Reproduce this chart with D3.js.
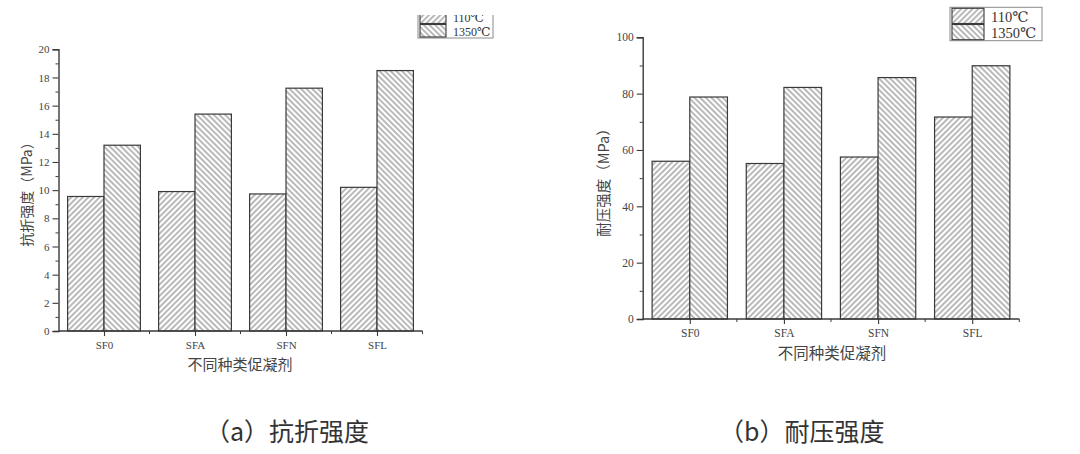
<!DOCTYPE html>
<html><head><meta charset="utf-8">
<script src="https://cdn.jsdelivr.net/npm/d3@7"></script>
<style>
html,body{margin:0;padding:0;background:#fff;}
svg{display:block;}
</style></head>
<body>
<svg id="chart" width="1080" height="454"></svg>
<script>
// ---- data ----
const categories = ["SF0", "SFA", "SFN", "SFL"];
const seriesNames = ["110\u2103", "1350\u2103"];
const flexural110 = [9.55, 9.9, 9.73, 10.2];
const flexural1350 = [13.19, 15.4, 17.24, 18.49];
const compressive110 = [56.0, 55.2, 57.5, 71.7];
const compressive1350 = [78.8, 82.2, 85.7, 89.9];
const flexTicks = [0, 2, 4, 6, 8, 10, 12, 14, 16, 18, 20];
const compTicks = [0, 20, 40, 60, 80, 100];
const captions = ["\uFF08a\uFF09\u6297\u6298\u5f3a\u5ea6", "\uFF08b\uFF09\u8010\u538b\u5f3a\u5ea6"];
const yTitles = ["\u6297\u6298\u5f3a\u5ea6\uFF08MPa\uFF09", "\u8010\u538b\u5f3a\u5ea6\uFF08MPa\uFF09"];
const xTitle = "\u4e0d\u540c\u79cd\u7c7b\u4fc3\u51dd\u5242";

const svg = d3.select("#chart");
const serif = "'Liberation Serif','DejaVu Serif','Noto Sans CJK SC',serif";
const cjk = "'Noto Sans CJK SC','DejaVu Sans',sans-serif";
const ink = "#3a3a3a";

// hatch patterns: rotate(45) -> "/", rotate(-45) -> "\"
const defs = svg.append("defs");
function hatch(id, angle) {
  const p = defs.append("pattern").attr("id", id).attr("patternUnits", "userSpaceOnUse")
    .attr("width", 4).attr("height", 4).attr("patternTransform", `rotate(${angle})`);
  p.append("rect").attr("width", 4).attr("height", 4).attr("fill", "#fff");
  p.append("line").attr("x1", 2).attr("y1", -1).attr("x2", 2).attr("y2", 5)
    .attr("stroke", "#505050").attr("stroke-width", 0.8);
}
hatch("h110", 45);
hatch("h1350", -45);
const fills = ["url(#h110)", "url(#h1350)"];

function drawChart(cfg) {
  const g = svg.append("g");
  const x = d3.scaleBand().domain(categories).range([cfg.x0, cfg.x1]).padding(0);
  const xs = d3.scaleBand().domain([0, 1]).range([0.1 * x.bandwidth(), 0.9 * x.bandwidth()]).padding(0);
  const y = d3.scaleLinear().domain([0, cfg.max]).range([cfg.y0, cfg.y1]);

  // bars
  const series = [cfg.s110, cfg.s1350];
  series.forEach((vals, si) => {
    g.selectAll(null).data(vals).enter().append("rect")
      .attr("x", (d, i) => x(categories[i]) + xs(si))
      .attr("y", d => y(d))
      .attr("width", xs.bandwidth())
      .attr("height", d => y(0) - y(d))
      .attr("fill", fills[si])
      .attr("stroke", ink).attr("stroke-width", 1.2);
  });

  // y axis
  const yAxis = d3.axisLeft(y).tickValues(cfg.ticks).tickSize(6).tickPadding(3).tickFormat(d3.format("d"));
  const ya = g.append("g").attr("transform", `translate(${cfg.x0},0)`).call(yAxis);
  ya.select(".domain").attr("stroke", ink).attr("stroke-width", 1.4);
  ya.selectAll(".tick line").attr("stroke", ink).attr("stroke-width", 1.1);
  ya.selectAll(".tick text").attr("font-family", serif).attr("font-size", cfg.tickFs).attr("fill", "#444");
  const minor = d3.range(cfg.minorStep, cfg.max, cfg.minorStep * 2);
  g.append("g").attr("transform", `translate(${cfg.x0},0)`)
    .call(d3.axisLeft(y).tickValues(minor).tickSize(3).tickFormat(""))
    .call(a => { a.select(".domain").remove(); a.selectAll(".tick line").attr("stroke", ink).attr("stroke-width", 1); });

  // x axis
  const xc = d3.scalePoint().domain(categories).range([cfg.x0 + x.bandwidth() / 2, cfg.x1 - x.bandwidth() / 2]);
  const xa = g.append("g").attr("transform", `translate(0,${cfg.y0})`)
    .call(d3.axisBottom(xc).tickSize(5).tickPadding(5).tickSizeOuter(0));
  xa.select(".domain").attr("stroke", ink).attr("stroke-width", 1.4).attr("d", `M${cfg.x0},0H${cfg.x1}`);
  xa.selectAll(".tick line").attr("stroke", ink).attr("stroke-width", 1.1);
  xa.selectAll(".tick text").attr("font-family", serif).attr("font-size", cfg.tickFs).attr("fill", "#444");
  // band boundary ticks
  g.append("g").selectAll("line").data(categories.slice(1).concat(["end"])).enter().append("line")
    .attr("x1", (d, i) => cfg.x0 + (i + 1) * x.step()).attr("x2", (d, i) => cfg.x0 + (i + 1) * x.step())
    .attr("y1", cfg.y0).attr("y2", cfg.y0 + 3).attr("stroke", ink).attr("stroke-width", 1);

  // titles
  g.append("text").attr("transform", `translate(${cfg.ytx},${cfg.yty}) rotate(-90)`)
    .attr("text-anchor", "middle").attr("dominant-baseline", "central")
    .attr("font-family", cjk).attr("font-size", cfg.titleFs).attr("fill", "#444").text(cfg.yTitle);
  g.append("text").attr("x", cfg.xtx).attr("y", cfg.xty)
    .attr("text-anchor", "middle").attr("dominant-baseline", "central")
    .attr("font-family", cjk).attr("font-size", cfg.xTitleFs).attr("fill", "#444").text(xTitle);

  // legend
  const L = cfg.legend;
  const lg = g.append("g").attr("clip-path", L.clip ? `url(#${L.clip})` : null);
  if (L.clip) {
    defs.append("clipPath").attr("id", L.clip).append("rect")
      .attr("x", 0).attr("y", L.clipY).attr("width", 1080).attr("height", 454);
  }
  lg.append("rect").attr("x", L.x).attr("y", L.y).attr("width", L.w).attr("height", 2 * L.rh + 3)
    .attr("fill", "#fff").attr("stroke", "#8a8a8a").attr("stroke-width", 1);
  seriesNames.forEach((name, si) => {
    lg.append("rect").attr("x", L.x + 2).attr("y", L.y + 1 + si * (L.rh + 1)).attr("width", L.sw).attr("height", L.rh)
      .attr("fill", fills[si]).attr("stroke", ink).attr("stroke-width", 1.1);
    lg.append("text").attr("x", L.x + L.sw + 9).attr("y", L.y + 1 + si * (L.rh + 1) + L.rh / 2 + 1)
      .attr("dominant-baseline", "central").attr("font-family", serif).attr("font-size", L.fs)
      .attr("fill", "#333").text(name);
  });
}

drawChart({
  x0: 58.5, x1: 422.5, y0: 331, y1: 49.3, max: 20, ticks: flexTicks, minorStep: 1,
  s110: flexural110, s1350: flexural1350, tickFs: 11,
  yTitle: yTitles[0], ytx: 26, yty: 191, titleFs: 14,
  xtx: 240, xty: 363, xTitleFs: 15,
  legend: { x: 418, y: 10, w: 75, rh: 12.5, sw: 26, fs: 12, clip: "clipL", clipY: 15 }
});
drawChart({
  x0: 642.7, x1: 1019.3, y0: 319, y1: 37.3, max: 100, ticks: compTicks, minorStep: 10,
  s110: compressive110, s1350: compressive1350, tickFs: 11.5,
  yTitle: yTitles[1], ytx: 602, yty: 179, titleFs: 14.5,
  xtx: 832, xty: 352, xTitleFs: 15.5,
  legend: { x: 950, y: 7.3, w: 92, rh: 15.2, sw: 32, fs: 14.5 }
});

// captions
svg.selectAll(".cap").data(captions).enter().append("text").attr("class", "cap")
  .attr("x", (d, i) => [205, 719][i]).attr("y", 430)
  .attr("dominant-baseline", "central").attr("font-family", cjk).attr("font-size", 25)
  .attr("fill", "#333").text(d => d);
</script>
</body></html>
